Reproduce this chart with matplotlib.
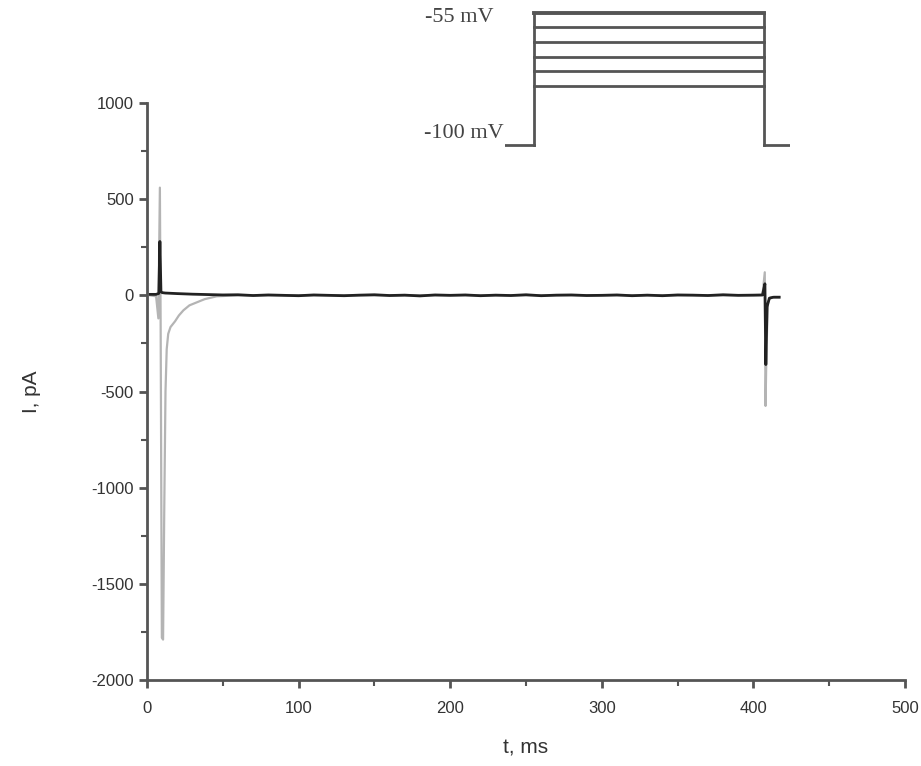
import matplotlib.pyplot as plt
from matplotlib.ticker import MultipleLocator

# gray trace (large transient), t in ms, I in pA
t_gray = [2, 6, 7.5, 8.5, 9.0, 9.8, 10.6, 11.4, 12.2, 13.0, 14.0, 15.5, 18.5, 21, 24, 28, 33, 38, 46, 60,
          100, 200, 300, 400, 406, 407.5, 408, 408.6, 409.5, 411, 414, 417]
i_gray = [0, -5, -120, 560, -150, -1780, -1790, -1100, -500, -280, -200, -165, -135, -105, -78, -52, -36, -20, -5, 0,
          0, 0, 0, 0, 0, 120, -575, -300, -40, -12, -8, -8]

# black trace
t_black = [2, 6, 7.8, 8.5, 9.2, 10, 12, 20, 30, 40, 50, 60, 70, 80, 90, 100, 110, 120, 130, 140, 150,
           160, 170, 180, 190, 200, 210, 220, 230, 240, 250, 260, 270, 280, 290, 300, 310, 320,
           330, 340, 350, 360, 370, 380, 390, 400, 406, 407.6, 408.2, 409, 410.5, 413, 417]
i_black = [5, 5, 10, 280, 20, 14, 12, 9, 6, 4, 2, 3, -1, 2, 0, -2, 2, 0, -2, 1, 3,
           -1, 1, -3, 2, 0, 2, -2, 1, -1, 3, -2, 1, 2, -1, 0, 2, -2,
           1, -2, 2, 1, -1, 3, 0, 1, 2, 60, -360, -60, -15, -10, -10]

# voltage protocol inset
prot_levels = [-80, -75, -70, -65, -60, -55]
prot_hold = -100
prot_start = 0
prot_end = 400
prot_pre = -50
prot_post = 445

xticks = [0, 100, 200, 300, 400, 500]
yticks = [-2000, -1500, -1000, -500, 0, 500, 1000]

plt.rcParams['font.family'] = ['Liberation Sans', 'DejaVu Sans']
plt.rcParams['axes.unicode_minus'] = False

W, H = 921, 766
fig = plt.figure(figsize=(W / 100, H / 100), dpi=100)
ax = fig.add_axes([147 / W, 1 - 680 / H, (905 - 147) / W, (680 - 103) / H])

ax.plot(t_gray, i_gray, color='#b4b4b4', lw=1.6)
ax.plot(t_black, i_black, color='#222222', lw=2)

ax.set_xlim(0, 500)
ax.set_ylim(-2000, 1000)
ax.set_xticks(xticks)
ax.set_yticks(yticks)
ax.xaxis.set_minor_locator(MultipleLocator(50))
ax.yaxis.set_minor_locator(MultipleLocator(250))
for s in ['top', 'right']:
    ax.spines[s].set_visible(False)
for s in ['left', 'bottom']:
    ax.spines[s].set_linewidth(2)
    ax.spines[s].set_color('#555555')
ax.tick_params(which='major', direction='out', length=6, width=2, color='#555555',
               labelsize=12, labelcolor='#333333')
ax.tick_params(which='minor', direction='out', length=4, width=1.5, color='#555555')
ax.tick_params(axis='x', which='major', pad=9)
ax.set_xlabel('t, ms', fontsize=15, color='#333333', labelpad=16)
ax.set_ylabel('I, pA', fontsize=15, color='#333333', labelpad=36)

# inset with voltage protocol
ins = fig.add_axes([505 / W, 1 - 150 / H, (790 - 505) / W, 145 / H])
ins.set_xlim(prot_pre, prot_post)
ins.set_ylim(-101.7, -52.4)
ins.axis('off')
pc = '#555555'
ins.plot([prot_pre, prot_start], [prot_hold, prot_hold], color=pc, lw=2)
ins.plot([prot_end, prot_post], [prot_hold, prot_hold], color=pc, lw=2)
top = max(prot_levels)
ins.plot([prot_start, prot_start], [prot_hold, top], color=pc, lw=2)
ins.plot([prot_end, prot_end], [prot_hold, top], color=pc, lw=2)
for v in prot_levels:
    ins.plot([prot_start, prot_end], [v, v], color=pc, lw=2.8 if v == top else 2)
ins.text(-70, -56.5, '-55 mV', ha='right', va='center', fontsize=16,
         family=['Liberation Serif'], color='#444444', clip_on=False)
ins.text(-52, -96.2, '-100 mV', ha='right', va='center', fontsize=16,
         family=['Liberation Serif'], color='#444444', clip_on=False)

fig.savefig('out.png', dpi=100)
